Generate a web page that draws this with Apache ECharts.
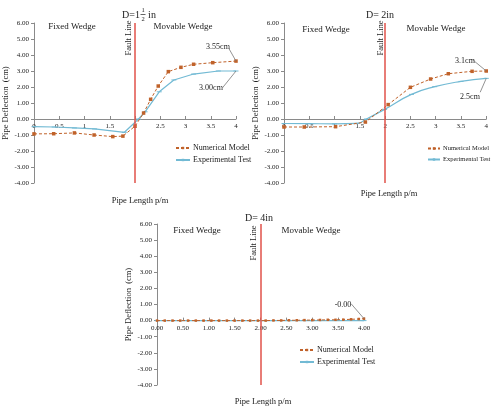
<!DOCTYPE html>
<html>
<head>
<meta charset="utf-8">
<script src="https://cdn.jsdelivr.net/npm/echarts@6/dist/echarts.min.js"></script>
<style>
  html, body { margin: 0; padding: 0; background: #fff; }
  #main { width: 491px; height: 407px; }
</style>
</head>
<body>
<div id="main"></div>
<script>
// D = 1 1/2 in
const d15NumX = [0, 0.39, 0.8, 1.19, 1.56, 1.76, 2.0, 2.17, 2.31, 2.46, 2.66, 2.91, 3.16, 3.54, 4.0];
const d15NumY = [-0.93, -0.92, -0.87, -1.0, -1.1, -1.07, -0.45, 0.37, 1.23, 2.06, 2.96, 3.23, 3.42, 3.52, 3.62];
const d15ExpX = [0, 0.4, 0.8, 1.2, 1.79, 2.07, 2.2, 2.48, 2.77, 3.16, 3.65, 4.0];
const d15ExpY = [-0.48, -0.5, -0.56, -0.62, -0.83, 0.0, 0.45, 1.7, 2.44, 2.81, 3.0, 3.0];
// D = 2 in
const d2NumX = [0, 0.4, 1.02, 1.61, 2.06, 2.5, 2.9, 3.25, 3.72, 4.0];
const d2NumY = [-0.5, -0.5, -0.48, -0.19, 0.9, 1.98, 2.5, 2.83, 2.98, 3.0];
const d2ExpX = [0, 0.5, 1.0, 1.45, 1.63, 1.99, 2.52, 2.98, 3.5, 4.0];
const d2ExpY = [-0.28, -0.29, -0.3, -0.27, 0.0, 0.6, 1.54, 2.02, 2.35, 2.54];
// D = 4 in
const d4NumX = [0, 0.15, 0.3, 0.45, 0.6, 0.75, 0.9, 1.05, 1.2, 1.35, 1.5, 1.65, 1.8, 1.95, 2.1, 2.25, 2.4, 2.55, 2.7, 2.85, 3.0, 3.15, 3.3, 3.45, 3.6, 3.75, 3.9, 4.0];
const d4NumY = [0, 0, 0, 0, 0, 0, 0, 0, 0, 0, 0, 0, 0, 0, 0, 0.01, 0.01, 0.02, 0.02, 0.03, 0.03, 0.04, 0.05, 0.05, 0.06, 0.08, 0.1, 0.12];
const d4ExpX = [0, 1, 2, 3, 4];
const d4ExpY = [0, 0, 0, 0, 0];

const yMin = -4, yMax = 6, yStep = 1;
const xMin = 0, xMax = 4, xStep = 0.5;
const faultX = 2;

const numColor = '#c0622a';
const expColor = '#72bad4';
const faultColor = '#e0524a';
const axisColor = '#8a8a8a';
const txt = '#222';
const serif = '"Liberation Serif", "DejaVu Serif", serif';

const pairs = (xs, ys) => xs.map((x, i) => [x, ys[i]]);

const grids = [
  { left: 32, top: 23, width: 204, height: 160 },
  { left: 284, top: 23, width: 203, height: 160 },
  { left: 157, top: 224, width: 207, height: 161 }
];

// the x axis sits on y = 0, so lift it from the grid bottom by the share of the y range below zero
function xAxisFor(i, fixed) {
  const lift = (0 - yMin) / (yMax - yMin) * grids[i].height;
  return {
    type: 'value', gridIndex: i, min: xMin, max: xMax, interval: xStep,
    position: 'bottom', offset: -lift,
    axisLine: { onZero: false, lineStyle: { color: axisColor, width: 1 } },
    axisTick: { show: true, inside: true, length: 3, lineStyle: { color: axisColor } },
    splitLine: { show: false },
    axisLabel: {
      fontFamily: serif, fontSize: 7, color: txt, margin: 4,
      formatter: v => fixed ? v.toFixed(2) : String(v)
    }
  };
}
function yAxisFor(i) {
  return {
    type: 'value', gridIndex: i, min: yMin, max: yMax, interval: yStep,
    name: 'Pipe Deflection  (cm)', nameLocation: 'middle', nameGap: 24,
    nameTextStyle: { fontFamily: serif, fontSize: 8.5, color: txt },
    axisLine: { show: true, onZero: false, lineStyle: { color: axisColor, width: 1 } },
    axisTick: { show: true, length: 3, lineStyle: { color: axisColor } },
    splitLine: { show: false },
    axisLabel: { fontFamily: serif, fontSize: 7, color: txt, margin: 5, formatter: v => v.toFixed(2) }
  };
}

function leader(from, to) {
  return [
    { coord: from, symbol: 'none', lineStyle: { color: '#777', width: 0.8, type: 'solid' }, label: { show: false } },
    { coord: to, symbol: 'none' }
  ];
}

function numSeries(i, xs, ys, leaders, size) {
  return {
    name: 'Numerical Model', type: 'line', xAxisIndex: i, yAxisIndex: i,
    data: pairs(xs, ys),
    symbol: 'rect', symbolSize: size, showSymbol: true,
    lineStyle: { color: numColor, width: 1, type: [3, 2] },
    itemStyle: { color: numColor },
    z: 3,
    markLine: {
      silent: true, symbol: 'none', animation: false,
      data: [
        { xAxis: faultX, lineStyle: { color: faultColor, width: 1.5, type: 'solid' }, label: { show: false } }
      ].concat(leaders)
    }
  };
}
function expSeries(i, xs, ys, smooth) {
  return {
    name: 'Experimental Test', type: 'line', xAxisIndex: i, yAxisIndex: i,
    data: pairs(xs, ys), smooth: smooth,
    symbol: 'rect', symbolSize: [5, 1], showSymbol: true,
    lineStyle: { color: expColor, width: 1.2 },
    itemStyle: { color: expColor },
    z: 2
  };
}

function legendAt(left, top, size, w) {
  return {
    left: left, top: top, orient: 'vertical', itemGap: 4,
    itemWidth: w, itemHeight: 3, padding: 0,
    textStyle: { fontFamily: serif, fontSize: size, color: txt, padding: [0, 0, 0, -2] },
    data: ['Numerical Model', 'Experimental Test']
  };
}

function text(x, y, s, size, extra) {
  return Object.assign({
    type: 'text', x: x, y: y,
    style: { text: s, fontFamily: serif, fontSize: size, fill: txt, align: 'center', verticalAlign: 'middle' }
  }, extra || {});
}
function vtext(x, y, s) {
  return text(x, y, s, 8.5, { rotation: Math.PI / 2 });
}

const option = {
  animation: false,
  backgroundColor: '#fff',
  grid: grids,
  xAxis: [xAxisFor(0, false), xAxisFor(1, false), xAxisFor(2, true)],
  yAxis: [yAxisFor(0), yAxisFor(1), yAxisFor(2)],
  legend: [legendAt(175, 144, 8, 14), legendAt(427, 145, 6.5, 12), legendAt(299, 346, 8, 14)],
  series: [
    numSeries(0, d15NumX, d15NumY, [leader([3.86, 4.4], [4, 3.62]), leader([3.73, 1.94], [4, 3.0])], 3.5),
    expSeries(0, d15ExpX, d15ExpY, false),
    numSeries(1, d2NumX, d2NumY, [leader([3.72, 3.73], [4, 3.0]), leader([3.88, 1.67], [4, 2.54])], 3.5),
    expSeries(1, d2ExpX, d2ExpY, true),
    numSeries(2, d4NumX, d4NumY, [leader([3.75, 1.05], [4, 0.12])], 2.5),
    expSeries(2, d4ExpX, d4ExpY, false)
  ],
  graphic: [
    // titles
    text(131, 15, 'D=1', 10),
    text(143, 10, '1', 6.5),
    { type: 'line', shape: { x1: 140.5, y1: 14.5, x2: 145.5, y2: 14.5 }, style: { stroke: txt, lineWidth: 0.7 } },
    text(143, 19, '2', 6.5),
    text(152, 15, 'in', 10),
    text(380, 15, 'D= 2in', 10),
    text(259, 218, 'D= 4in', 10),
    // wedges
    text(72, 27, 'Fixed Wedge', 9),
    text(183, 27, 'Movable Wedge', 9),
    text(326, 30, 'Fixed Wedge', 9),
    text(436, 29, 'Movable Wedge', 9),
    text(197, 231, 'Fixed Wedge', 9),
    text(311, 231, 'Movable Wedge', 9),
    // fault line labels
    vtext(129, 38, 'Fault Line'),
    vtext(381, 38, 'Fault Line'),
    vtext(254, 243, 'Fault Line'),
    // value callouts
    text(218, 47, '3.55cm', 8),
    text(211, 88, '3.00cm', 8),
    text(465, 61, '3.1cm', 8),
    text(470, 97, '2.5cm', 8),
    text(343, 305, '-0.00', 8),
    // x-axis names
    text(140, 201, 'Pipe Length p/m', 8.5),
    text(389, 194, 'Pipe Length p/m', 8.5),
    text(263, 402, 'Pipe Length p/m', 8.5)
  ]
};

const chart = echarts.init(document.getElementById('main'));
chart.setOption(option);
</script>
</body>
</html>
